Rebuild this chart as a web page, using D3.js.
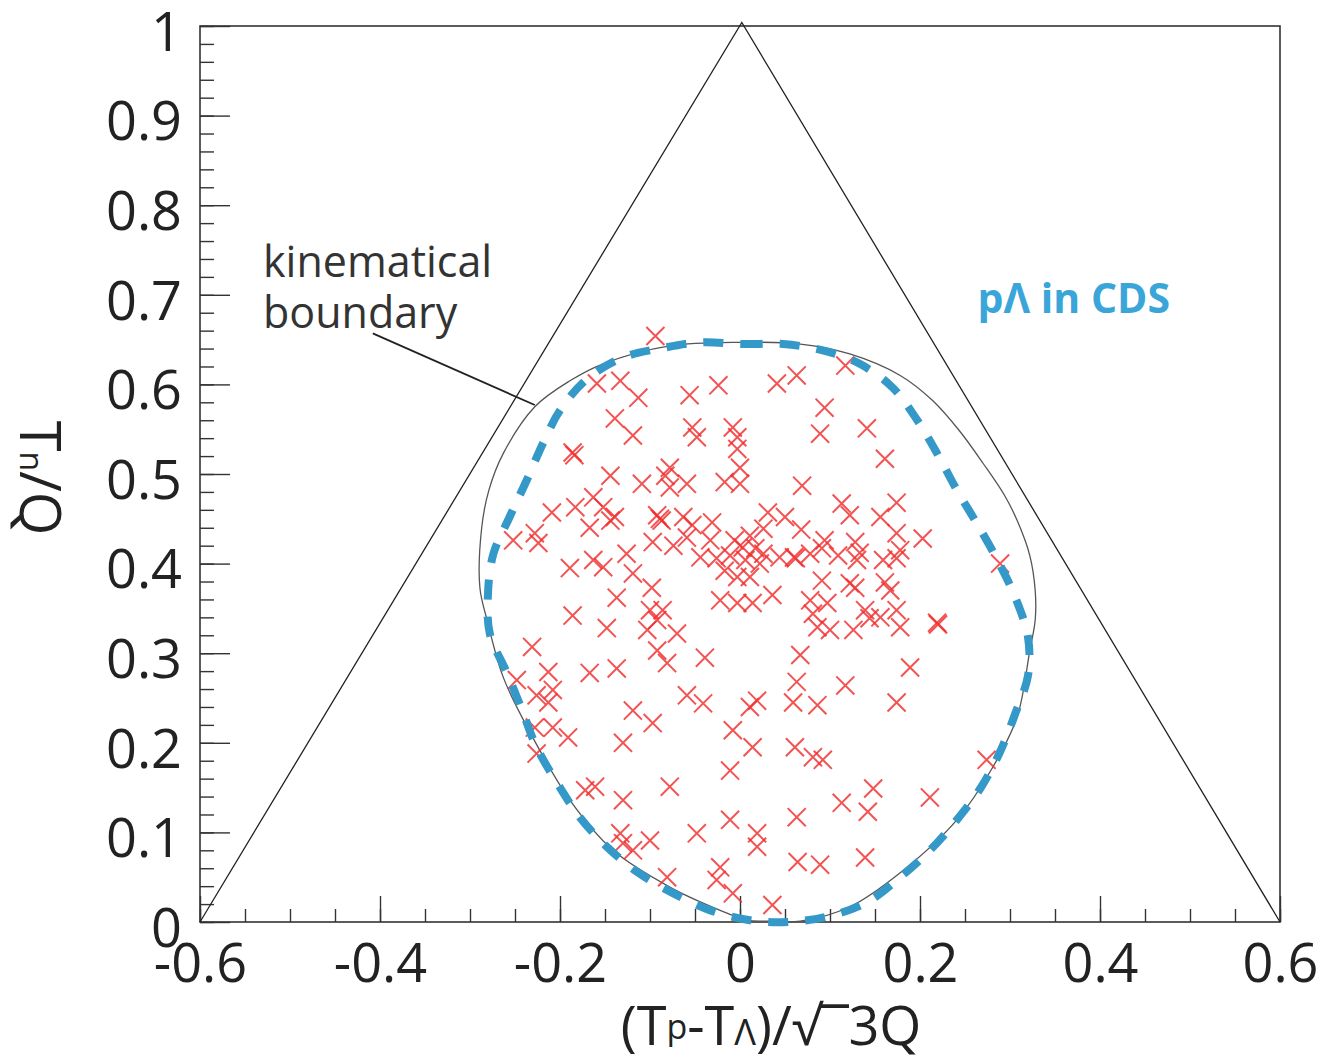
<!DOCTYPE html>
<html>
<head>
<meta charset="utf-8">
<script src="https://cdn.jsdelivr.net/npm/d3@7"></script>
<style>
  body { margin: 0; background: #fff; }
  text { font-family: "Open Sans", "DejaVu Sans", sans-serif; }
</style>
</head>
<body>
<svg id="chart" width="1319" height="1060"></svg>
<script>
/*
 * Dalitz plot of pΛn events with the kinematical boundary
 */

var xTicks = [-0.6, -0.4, -0.2, 0, 0.2, 0.4, 0.6];
var yTicks = [0, 0.1, 0.2, 0.3, 0.4, 0.5, 0.6, 0.7, 0.8, 0.9, 1];

// Dalitz triangle corners
var triangle = [[-0.6, 0], [0.002, 1.004], [0.6, 0]];

// kinematical boundary
var boundary = [
  [0, 0.647], [0.067, 0.645], [0.122, 0.634], [0.178, 0.610], [0.214, 0.582], [0.244, 0.548],
  [0.270, 0.512], [0.294, 0.476], [0.308, 0.448], [0.322, 0.409], [0.328, 0.370], [0.328, 0.337],
  [0.322, 0.303], [0.308, 0.229], [0.281, 0.173], [0.241, 0.114], [0.178, 0.055], [0.122, 0.017],
  [0.067, 0.001], [0.030, 0.001], [0.008, 0.002], [-0.022, 0.013], [-0.078, 0.039], [-0.141, 0.080],
  [-0.189, 0.136], [-0.233, 0.211], [-0.263, 0.273], [-0.281, 0.337], [-0.289, 0.373], [-0.287, 0.440],
  [-0.279, 0.482], [-0.263, 0.523], [-0.228, 0.575], [-0.189, 0.604], [-0.152, 0.623], [-0.078, 0.643]
];

// pΛ in CDS acceptance contour
var cdsAcceptance = [
  [-0.044, 0.647], [0.003, 0.645], [0.048, 0.645], [0.092, 0.638], [0.133, 0.623], [0.170, 0.596],
  [0.197, 0.560], [0.219, 0.523], [0.241, 0.482], [0.263, 0.445], [0.286, 0.404], [0.306, 0.362],
  [0.320, 0.318], [0.320, 0.275], [0.306, 0.233], [0.289, 0.190], [0.267, 0.149], [0.241, 0.114],
  [0.211, 0.080], [0.178, 0.050], [0.141, 0.022], [0.097, 0.006], [0.053, 0.000], [0.011, 0.002],
  [-0.033, 0.013], [-0.074, 0.032], [-0.113, 0.055], [-0.148, 0.084], [-0.178, 0.117], [-0.203, 0.155],
  [-0.226, 0.195], [-0.242, 0.236], [-0.259, 0.278], [-0.278, 0.322], [-0.280, 0.367], [-0.274, 0.411],
  [-0.256, 0.452], [-0.237, 0.493], [-0.219, 0.534], [-0.200, 0.571], [-0.170, 0.606], [-0.130, 0.630],
  [-0.089, 0.640]
];

// events: [ (Tp-TΛ)/√3Q , Tn/Q ]
var events = [
  [-0.094, 0.654], [-0.159, 0.601], [-0.133, 0.604], [-0.113, 0.585], [-0.056, 0.588], [-0.024, 0.599],
  [-0.139, 0.562], [-0.119, 0.543], [-0.053, 0.552], [-0.048, 0.541], [-0.008, 0.552], [-0.003, 0.541],
  [-0.003, 0.528], [-0.186, 0.524], [-0.184, 0.521], [-0.144, 0.498], [-0.078, 0.507], [0.000, 0.507],
  [-0.209, 0.457], [-0.183, 0.463], [-0.252, 0.426], [-0.228, 0.434], [-0.224, 0.423],
  [-0.163, 0.474], [-0.152, 0.463], [-0.167, 0.440], [-0.144, 0.448], [-0.139, 0.452],
  [-0.189, 0.395], [-0.163, 0.404], [-0.152, 0.396], [-0.137, 0.362], [-0.186, 0.342],
  [0.041, 0.601], [0.063, 0.610], [0.117, 0.621], [0.094, 0.574], [0.089, 0.545], [0.141, 0.551],
  [0.161, 0.517], [0.289, 0.400],
  [-0.109, 0.489], [-0.083, 0.498], [-0.078, 0.485], [-0.059, 0.489], [-0.017, 0.491], [0.000, 0.489],
  [0.069, 0.487], [-0.087, 0.448], [-0.089, 0.450], [-0.092, 0.454], [-0.063, 0.452], [-0.053, 0.443],
  [-0.031, 0.446], [-0.059, 0.429], [-0.097, 0.424], [-0.074, 0.420], [-0.126, 0.411], [-0.044, 0.407],
  [-0.026, 0.406], [-0.011, 0.409], [0.003, 0.418], [0.011, 0.431], [0.026, 0.439], [0.031, 0.457],
  [0.050, 0.452], [0.068, 0.438], [0.044, 0.407], [0.060, 0.407], [0.062, 0.406], [0.078, 0.411],
  [-0.033, 0.426], [-0.006, 0.426], [0.017, 0.417], [-0.017, 0.392], [0.006, 0.404], [0.026, 0.411],
  [-0.119, 0.389], [-0.098, 0.373], [-0.003, 0.385], [0.011, 0.385], [0.022, 0.400],
  [-0.022, 0.359], [-0.003, 0.356], [0.014, 0.356], [0.036, 0.365], [-0.086, 0.348], [-0.092, 0.337],
  [-0.100, 0.348], [0.078, 0.359], [0.086, 0.329], [-0.070, 0.322], [-0.103, 0.326],
  [0.113, 0.467], [0.122, 0.454], [0.174, 0.468], [0.156, 0.452], [0.174, 0.434], [0.203, 0.428],
  [0.091, 0.417], [0.094, 0.426], [0.109, 0.409], [0.128, 0.424], [0.133, 0.412], [0.130, 0.404],
  [0.159, 0.404], [0.174, 0.406], [0.178, 0.415], [0.091, 0.381], [0.122, 0.378], [0.128, 0.373],
  [0.161, 0.379], [0.167, 0.370], [0.097, 0.356], [0.081, 0.344], [0.139, 0.348], [0.144, 0.339],
  [0.174, 0.348], [0.178, 0.329], [0.219, 0.334], [0.220, 0.332], [0.100, 0.326], [0.126, 0.326],
  [0.156, 0.340],
  [-0.148, 0.328], [-0.092, 0.303], [-0.081, 0.289], [-0.039, 0.295], [-0.231, 0.307], [-0.213, 0.279],
  [-0.167, 0.278], [-0.137, 0.283], [-0.248, 0.270], [-0.226, 0.253], [-0.208, 0.259], [-0.213, 0.245],
  [0.019, 0.247], [0.011, 0.240], [-0.059, 0.253], [-0.041, 0.244], [-0.119, 0.236], [-0.097, 0.222],
  [-0.008, 0.214], [0.014, 0.195], [-0.228, 0.217], [-0.208, 0.217], [-0.191, 0.206], [-0.226, 0.188],
  [-0.130, 0.200], [-0.011, 0.169], [-0.172, 0.147], [-0.161, 0.151], [-0.130, 0.136], [-0.078, 0.151],
  [-0.011, 0.114], [0.019, 0.099], [0.019, 0.084], [-0.133, 0.099], [-0.100, 0.091], [-0.119, 0.080],
  [-0.048, 0.099], [-0.022, 0.061], [-0.026, 0.047], [-0.008, 0.032], [-0.081, 0.050], [-0.130, 0.088],
  [0.067, 0.298], [0.189, 0.284], [0.063, 0.268], [0.059, 0.245], [0.086, 0.242], [0.117, 0.264],
  [0.174, 0.245], [0.061, 0.195], [0.081, 0.184], [0.092, 0.181], [0.148, 0.149], [0.113, 0.133],
  [0.142, 0.123], [0.211, 0.139], [0.274, 0.181], [0.063, 0.117], [0.064, 0.067], [0.089, 0.064],
  [0.139, 0.072], [0.036, 0.019]
];

var svg = d3.select('#chart');

var x = d3.scaleLinear().domain([-0.6, 0.6]).range([200, 1280]);
var y = d3.scaleLinear().domain([0, 1]).range([922, 26]);

var fmt = function(d) { return d3.format('.1~f')(d).replace('\u2212', '-'); };

function styleAxis(g) {
  g.select('.domain').remove();
  g.selectAll('.tick line').attr('stroke', '#333').attr('stroke-width', 1.4);
  g.attr('font-family', '"Open Sans", "DejaVu Sans", sans-serif')
   .attr('font-size', 54)
   .attr('color', '#222');
}

//-------------------------------
// axes (ticks point inward, ROOT style)

svg.append('g')
  .attr('transform', 'translate(0,922)')
  .call(d3.axisBottom(x).tickValues(x.ticks(24)).tickSizeInner(-13).tickSizeOuter(0).tickFormat(''))
  .call(styleAxis);

svg.append('g')
  .attr('transform', 'translate(0,922)')
  .call(d3.axisBottom(x).tickValues(xTicks).tickSizeInner(-26).tickSizeOuter(0).tickPadding(22).tickFormat(fmt))
  .call(styleAxis);

svg.append('g')
  .attr('transform', 'translate(200,0)')
  .call(d3.axisLeft(y).tickValues(y.ticks(50)).tickSizeInner(-14).tickSizeOuter(0).tickFormat(''))
  .call(styleAxis);

var yAxis = svg.append('g')
  .attr('transform', 'translate(200,0)')
  .call(d3.axisLeft(y).tickValues(yTicks).tickSizeInner(-30).tickSizeOuter(0).tickPadding(18).tickFormat(fmt))
  .call(styleAxis);
yAxis.selectAll('.tick text').attr('dy', '0.45em');

// frame
svg.append('rect')
  .attr('x', x(-0.6)).attr('y', y(1))
  .attr('width', x(0.6) - x(-0.6)).attr('height', y(0) - y(1))
  .attr('fill', 'none').attr('stroke', '#333').attr('stroke-width', 1.6);

//-------------------------------
// triangle, boundary, acceptance

var line = d3.line().x(function(d) { return x(d[0]); }).y(function(d) { return y(d[1]); });

svg.append('path')
  .attr('d', line(triangle))
  .attr('fill', 'none').attr('stroke', '#222').attr('stroke-width', 1.3);

svg.append('path')
  .attr('d', line.curve(d3.curveCatmullRomClosed)(boundary))
  .attr('fill', 'none').attr('stroke', '#555').attr('stroke-width', 1.3);

// events
var cross = d3.symbol().type(d3.symbolTimes || d3.symbolCross).size(215);

svg.append('g').selectAll('path.evt')
  .data(events)
  .enter().append('path')
  .attr('class', 'evt')
  .attr('transform', function(d) { return 'translate(' + x(d[0]) + ',' + y(d[1]) + ')'; })
  .attr('d', cross)
  .attr('fill', 'none')
  .attr('stroke', 'rgb(240,45,45)')
  .attr('stroke-width', 2)
  .attr('stroke-opacity', 0.82);

svg.append('path')
  .attr('d', line.curve(d3.curveCatmullRomClosed)(cdsAcceptance))
  .attr('fill', 'none').attr('stroke', '#3499c9').attr('stroke-width', 8)
  .attr('stroke-dasharray', '20,17');

//-------------------------------
// annotations

var note = svg.append('text')
  .attr('x', x(-0.530)).attr('y', y(0.720))
  .attr('font-size', 43).attr('fill', '#333');
note.append('tspan').text('kinematical');
note.append('tspan').attr('x', x(-0.530)).attr('y', y(0.663)).text('boundary');

svg.append('line')
  .attr('x1', x(-0.408)).attr('y1', y(0.657))
  .attr('x2', x(-0.228)).attr('y2', y(0.577))
  .attr('stroke', '#222').attr('stroke-width', 1.8);

svg.append('text')
  .attr('x', x(0.264)).attr('y', y(0.680))
  .attr('font-size', 41).attr('font-weight', 'bold').attr('fill', '#3aa5d9')
  .text('p\u039B in CDS');

//-------------------------------
// axis titles

var xt = svg.append('text')
  .attr('x', 771).attr('y', 1045)
  .attr('text-anchor', 'middle')
  .attr('font-size', 54).attr('fill', '#222');
xt.append('tspan').text('(T');
xt.append('tspan').attr('font-size', 34).attr('dy', -6).text('p');
xt.append('tspan').attr('dy', 6).text('-T');
xt.append('tspan').attr('font-size', 36).text('\u039B');
xt.append('tspan').text(')/\u221A\u203E3Q');

var yt = svg.append('text')
  .attr('transform', 'translate(20,478) rotate(90)')
  .attr('text-anchor', 'middle')
  .attr('font-size', 56).attr('fill', '#222');
yt.append('tspan').text('T');
yt.append('tspan').attr('font-size', 32).text('n');
yt.append('tspan').text('/Q');
</script>
</body>
</html>
